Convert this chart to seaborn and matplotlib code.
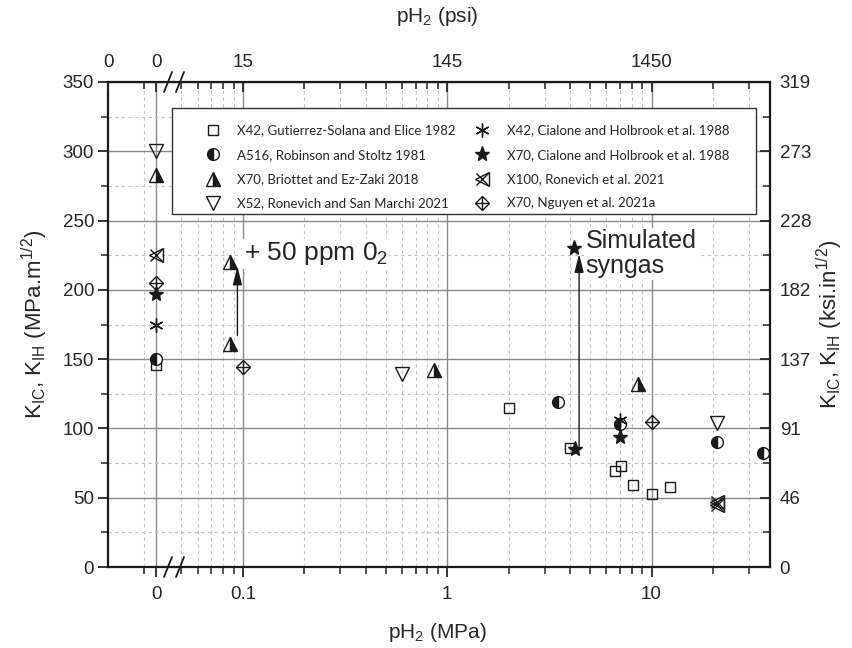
import pandas as pd
import matplotlib
matplotlib.use('Agg')
from matplotlib import pyplot as plt
from matplotlib.lines import Line2D
from matplotlib.patches import Rectangle
from matplotlib.legend_handler import HandlerTuple
from matplotlib.ticker import LogLocator, NullFormatter
import seaborn as sns

# pH2 (MPa) and K (MPa.m^1/2); x = 0 goes on the left stub of the broken axis
gs_x = [0, 2.0, 4.0, 6.6, 7.1, 8.1, 10.1, 12.3]
gs_y = [146, 115, 86, 69.5, 73, 59, 53, 57.5]
rs_x = [0, 3.5, 7.0, 21, 35]
rs_y = [150, 119, 103, 90, 82.5]
be_x = [0, 0.086, 0.086, 0.86, 8.6]
be_y = [283, 161, 220, 142, 132]
rsm_x = [0, 0.6, 21]
rsm_y = [300, 139, 104]
ch42_x = [0, 7.0]
ch42_y = [175, 106]
ch70_x = [0, 4.2, 7.0, 4.15]
ch70_y = [197, 85, 94, 230]
rn_x = [0, 21, 21]
rn_y = [225, 45, 47]
ng_x = [0, 0.1, 10]
ng_y = [205, 144, 105]

labels = ['X42, Gutierrez-Solana and Elice 1982', 'A516, Robinson and Stoltz 1981',
          'X70, Briottet and Ez-Zaki 2018', 'X52, Ronevich and San Marchi 2021',
          'X42, Cialone and Holbrook et al. 1988', 'X70, Cialone and Holbrook et al. 1988',
          'X100, Ronevich et al. 2021', 'X70, Nguyen et al. 2021a']

y_ticks = [0, 50, 100, 150, 200, 250, 300, 350]
y_minor = [25, 75, 125, 175, 225, 275, 325]
x_ticks = [0.1, 1, 10]
x_labels = ['0.1', '1', '10']
psi_labels = ['15', '145', '1450']
ksi_labels = [str(int(v * 0.9101 + 0.5)) for v in y_ticks]

sns.set_theme(style='white')
plt.rcParams['font.family'] = ['Liberation Sans', 'DejaVu Sans']
plt.rcParams['mathtext.fontset'] = 'custom'
plt.rcParams['mathtext.rm'] = 'Liberation Sans'
plt.rcParams['mathtext.it'] = 'Liberation Sans:italic'
plt.rcParams['mathtext.bf'] = 'Liberation Sans:bold'

W, H = 852, 648
fig = plt.figure(figsize=(W / 100, H / 100), dpi=100)


def box(x0, x1, y0, y1):
    return [x0 / W, 1 - y1 / H, (x1 - x0) / W, (y1 - y0) / H]


ax_l = fig.add_axes(box(108, 174, 82, 567))
ax_r = fig.add_axes(box(174, 770, 82, 567))

styles = [
    [dict(marker='s', markersize=7.5, markerfacecolor='none')],
    [dict(marker='o', markersize=8.5, fillstyle='left', markerfacecolor='k', markerfacecoloralt='white')],
    [dict(marker='^', markersize=9.5, fillstyle='right', markerfacecolor='k', markerfacecoloralt='white')],
    [dict(marker='v', markersize=10, markerfacecolor='none')],
    [dict(marker=(6, 2, 0), markersize=10)],
    [dict(marker='*', markersize=11, markerfacecolor='k')],
    [dict(marker='<', markersize=10, markerfacecolor='none'), dict(marker='x', markersize=8)],
    [dict(marker='D', markersize=7, markerfacecolor='none'), dict(marker='+', markersize=10)],
]
xs = [gs_x, rs_x, be_x, rsm_x, ch42_x, ch70_x, rn_x, ng_x]
ys = [gs_y, rs_y, be_y, rsm_y, ch42_y, ch70_y, rn_y, ng_y]
common = dict(color='k', linestyle='', markeredgecolor='k', markeredgewidth=1.0)

handles = []
for x, y, sts in zip(xs, ys, styles):
    df = pd.DataFrame({'x': x, 'y': y})
    hs = []
    for st in sts:
        for ax, part in ((ax_l, df[df.x == 0]), (ax_r, df[df.x > 0])):
            sns.lineplot(data=part, x='x', y='y', ax=ax, estimator=None, sort=False, **common, **st)
        hs.append(Line2D([], [], **common, **st))
    handles.append(tuple(hs))

# axes limits / scales
ax_l.set_xlim(-4, 1.5)
ax_r.set_xscale('log')
ax_r.set_xlim(0.046, 38)
for ax in (ax_l, ax_r):
    ax.set_ylim(0, 350)
    ax.set_xlabel('')
    ax.set_ylabel('')
    ax.set_yticks(y_ticks)
    ax.set_yticks(y_minor, minor=True)
    ax.grid(which='major', color='#8a8a8a', lw=1.0, ls='-')
    ax.grid(which='minor', color='#c4c4c4', lw=0.8, ls=(0, (3, 3)))
    ax.set_axisbelow(True)
    for s in ax.spines.values():
        s.set_color('k')
        s.set_linewidth(1.6)
ax_l.spines['right'].set_visible(False)
ax_r.spines['left'].set_visible(False)

ax_l.set_xticks([0])
ax_l.set_xticklabels(['0'])
ax_l.set_xticks([-1], minor=True)
ax_l.tick_params(axis='y', which='both', left=True, right=False, direction='out', labelsize=13.5, pad=3)
ax_l.tick_params(axis='y', which='major', length=7, width=1.3)
ax_l.tick_params(axis='y', which='minor', length=5, width=1.1)
ax_l.tick_params(axis='x', which='both', bottom=True, top=False, direction='out', labelsize=13.5, pad=7)
ax_l.tick_params(axis='x', which='major', length=7, width=1.3)
ax_l.tick_params(axis='x', which='minor', length=5, width=1.1)

ax_r.set_xticks(x_ticks)
ax_r.set_xticklabels(x_labels)
ax_r.xaxis.set_minor_locator(LogLocator(base=10, subs=range(2, 10), numticks=20))
ax_r.xaxis.set_minor_formatter(NullFormatter())
ax_r.yaxis.tick_right()
ax_r.set_yticklabels(ksi_labels)
ax_r.tick_params(axis='y', which='both', left=False, right=True, direction='in', labelsize=13.5, pad=7)
ax_r.tick_params(axis='y', which='major', length=7, width=1.3)
ax_r.tick_params(axis='y', which='minor', length=5, width=1.1)
ax_r.tick_params(axis='x', which='both', bottom=True, top=False, direction='out', labelsize=13.5, pad=7)
ax_r.tick_params(axis='x', which='major', length=7, width=1.3)
ax_r.tick_params(axis='x', which='minor', length=5, width=1.1)

# top psi axis
for ax, tk, lb in ((ax_l, [-4, 0], ['0', '0']), (ax_r, x_ticks, psi_labels)):
    t = ax.twiny()
    if ax is ax_r:
        t.set_xscale('log')
        t.xaxis.set_minor_locator(LogLocator(base=10, subs=range(2, 10), numticks=20))
        t.xaxis.set_minor_formatter(NullFormatter())
    else:
        t.set_xticks([-1], minor=True)
    t.set_xlim(ax.get_xlim())
    t.set_xticks(tk)
    t.set_xticklabels(lb)
    t.grid(False)
    for s in t.spines.values():
        s.set_visible(False)
    t.tick_params(axis='x', which='both', direction='in', labelsize=13.5, pad=8)
    t.tick_params(axis='x', which='major', length=7, width=1.3)
    t.tick_params(axis='x', which='minor', length=5, width=1.1)

# annotations
ax_r.annotate('', xy=(0.094, 217), xytext=(0.094, 167),
              arrowprops=dict(arrowstyle='-|>,head_length=0.8,head_width=0.2', color='k', lw=1,
                              mutation_scale=14, shrinkA=0, shrinkB=0))
ax_r.annotate('', xy=(4.42, 226), xytext=(4.42, 87),
              arrowprops=dict(arrowstyle='-|>,head_length=0.8,head_width=0.2', color='k', lw=1,
                              mutation_scale=14, shrinkA=0, shrinkB=0))
ax_r.text(0.101, 226, '+ 50 ppm 0$_2$', fontsize=19, va='center', ha='left',
          bbox=dict(facecolor='white', edgecolor='none', pad=1))
ax_r.text(4.75, 226, 'Simulated\nsyngas', fontsize=18, va='center', ha='left', linespacing=1.05,
          bbox=dict(facecolor='white', edgecolor='none', pad=1))

# axis titles
fig.text(437 / W, 1 - 632 / H, 'pH$_2$ (MPa)', fontsize=15, ha='center', va='center')
fig.text(437 / W, 1 - 17 / H, 'pH$_2$ (psi)', fontsize=15, ha='center', va='center')
fig.text(35 / W, 0.499, r'K$_{\mathrm{IC}}$, K$_{\mathrm{IH}}$ (MPa.m$^{1/2}$)', fontsize=16,
         rotation=90, ha='center', va='center')
fig.text(830 / W, 0.499, r'K$_{\mathrm{IC}}$, K$_{\mathrm{IH}}$ (ksi.in$^{1/2}$)', fontsize=16,
         rotation=90, ha='center', va='center')

# axis break marks
for yb in (567, 82):
    for xb in (168, 180):
        fig.add_artist(Line2D([(xb - 4) / W, (xb + 4) / W], [1 - (yb + 10) / H, 1 - (yb - 10) / H],
                              transform=fig.transFigure, color='k', lw=1.3))

# legend
fig.add_artist(Rectangle((172 / W, 1 - 214 / H), (756 - 172) / W, (214 - 108) / H,
                         transform=fig.transFigure, facecolor='white', edgecolor='#333333', lw=1, zorder=4))
fig.legend(handles, labels, loc='upper left', bbox_to_anchor=(193 / W, 1 - 118 / H), ncol=2,
           frameon=False, borderpad=0, handlelength=2, handletextpad=0.85, labelspacing=0.93,
           columnspacing=1.0, prop={'family': 'Lato', 'size': 9.5},
           handler_map={tuple: HandlerTuple(ndivide=1, pad=0)})

fig.savefig('out.png', dpi=100)
